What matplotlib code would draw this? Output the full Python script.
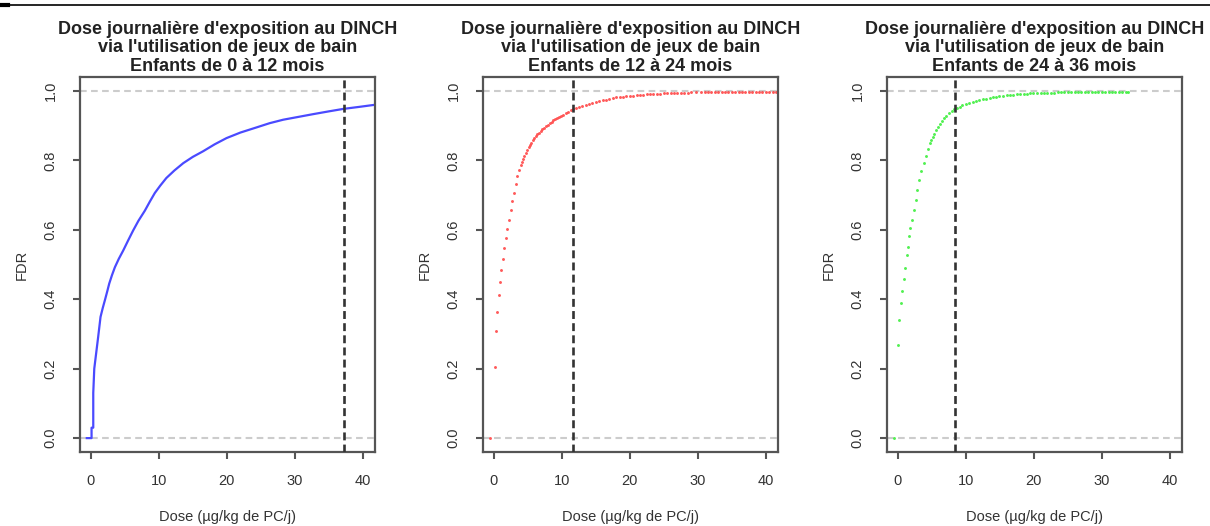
import matplotlib.pyplot as plt
from matplotlib.lines import Line2D
import numpy as np

plt.rcParams["font.family"] = ["Liberation Sans", "DejaVu Sans"]

# courbes (dose en ug/kg de PC/j, FDR)
dose_0_12 = [-0.6, 0.1, 0.1, 0.35, 0.35, 0.5, 0.75, 1.07, 1.42, 1.75,
             2.06, 2.4, 2.7, 3.1, 3.53, 4.1, 4.75, 5.5, 6.22, 7.0,
             7.94, 8.7, 9.41, 10.2, 11.1, 12.3, 13.6, 15.0, 16.5, 18.2,
             19.95, 22.0, 24.4, 26.3, 28.3, 30.5, 32.7, 35.0, 37.1, 39.5,
             41.8]
fdr_0_12 = [0, 0, 0.03, 0.03, 0.13, 0.2, 0.24, 0.291, 0.349, 0.375,
            0.397, 0.422, 0.445, 0.469, 0.492, 0.516, 0.540, 0.570, 0.598, 0.626,
            0.655, 0.682, 0.706, 0.727, 0.749, 0.771, 0.792, 0.810, 0.826, 0.846,
            0.864, 0.880, 0.895, 0.907, 0.917, 0.925, 0.933, 0.941, 0.948, 0.954,
            0.960]

dose_12_24 = [-0.5, 0.1, 0.25, 0.44, 0.69, 0.89, 1.08, 1.3, 1.55, 1.78,
              1.97, 2.2, 2.47, 2.7, 2.95, 3.2, 3.44, 3.7, 3.94, 4.1,
              4.3, 4.5, 4.68, 4.9, 5.1, 5.3, 5.5, 5.7, 5.91, 6.15,
              6.4, 6.65, 6.9, 7.15, 7.39, 7.65, 7.9, 8.2, 8.5, 8.75,
              9.0, 9.3, 9.6, 9.9, 10.2, 10.55, 10.9, 11.3, 11.7, 12.1,
              12.5, 13.0, 13.5, 14.0, 14.5, 15.0, 15.5, 16.0, 16.5, 17.0,
              17.5, 18.0, 18.5, 19.0, 19.5, 20.0, 20.5, 21.0, 21.5, 22.0,
              22.5, 23.0, 23.4, 24.0, 24.5, 25.0, 25.5, 26.0, 26.5, 27.0,
              27.5, 28.0, 28.5, 29.0, 29.8, 30.5, 31.0, 31.5, 32.0, 32.5,
              33.0, 33.5, 34.0, 34.5, 35.0, 35.5, 36.0, 36.5, 37.0, 37.5,
              38.0, 38.5, 39.0, 39.5, 40.0, 40.5, 41.0, 41.5]
fdr_12_24 = [0, 0.205, 0.308, 0.364, 0.413, 0.449, 0.485, 0.516, 0.548, 0.575,
             0.601, 0.628, 0.658, 0.682, 0.706, 0.731, 0.754, 0.771, 0.787, 0.795,
             0.805, 0.813, 0.821, 0.829, 0.837, 0.844, 0.851, 0.858, 0.864, 0.870,
             0.875, 0.880, 0.884, 0.889, 0.893, 0.898, 0.902, 0.907, 0.911, 0.915,
             0.918, 0.922, 0.926, 0.929, 0.932, 0.936, 0.940, 0.944, 0.947, 0.950,
             0.953, 0.957, 0.960, 0.963, 0.966, 0.969, 0.971, 0.973, 0.975, 0.977,
             0.979, 0.981, 0.982, 0.983, 0.984, 0.985, 0.986, 0.987, 0.988, 0.989,
             0.990, 0.990, 0.991, 0.992, 0.992, 0.993, 0.993, 0.994, 0.994, 0.994,
             0.995, 0.995, 0.995, 0.996, 0.996, 0.996, 0.996, 0.997, 0.997, 0.997,
             0.997, 0.997, 0.997, 0.997, 0.997, 0.997, 0.997, 0.997, 0.997, 0.997,
             0.997, 0.997, 0.997, 0.997, 0.997, 0.997, 0.997, 0.997]

dose_24_36 = [-0.6, 0.0, 0.2, 0.4, 0.64, 0.84, 1.04, 1.28, 1.45, 1.63,
              1.85, 2.1, 2.35, 2.6, 2.85, 3.1, 3.45, 3.85, 4.1, 4.4,
              4.7, 4.9, 5.1, 5.35, 5.6, 5.9, 6.2, 6.5, 6.8, 7.15,
              7.5, 7.9, 8.3, 8.7, 9.1, 9.5, 10.0, 10.5, 11.0, 11.5,
              12.0, 12.5, 13.0, 13.5, 14.0, 14.5, 14.9, 15.5, 16.0, 16.5,
              17.0, 17.5, 18.0, 18.5, 19.0, 19.5, 19.9, 20.5, 21.0, 21.5,
              22.0, 22.5, 23.0, 23.5, 24.0, 24.5, 25.0, 25.5, 26.0, 26.5,
              27.0, 27.5, 28.0, 28.5, 29.0, 29.5, 30.0, 30.5, 31.0, 31.5,
              32.0, 32.5, 33.0, 33.5, 33.9]
fdr_24_36 = [0, 0.268, 0.341, 0.389, 0.425, 0.457, 0.489, 0.526, 0.550, 0.581,
             0.605, 0.629, 0.658, 0.687, 0.716, 0.744, 0.768, 0.792, 0.812, 0.832,
             0.850, 0.858, 0.866, 0.877, 0.888, 0.897, 0.905, 0.913, 0.921, 0.928,
             0.935, 0.941, 0.947, 0.951, 0.955, 0.958, 0.962, 0.966, 0.969, 0.972,
             0.974, 0.976, 0.978, 0.980, 0.982, 0.983, 0.984, 0.986, 0.987, 0.988,
             0.989, 0.990, 0.991, 0.991, 0.992, 0.993, 0.993, 0.994, 0.994, 0.995,
             0.995, 0.995, 0.995, 0.996, 0.996, 0.996, 0.996, 0.996, 0.996, 0.996,
             0.996, 0.996, 0.996, 0.996, 0.996, 0.996, 0.996, 0.996, 0.996, 0.996,
             0.996, 0.996, 0.996, 0.996, 0.996]

# 95e percentile (ligne verticale)
p95 = [37.2, 11.7, 8.4]

titres = ["Dose journalière d'exposition au DINCH\nvia l'utilisation de jeux de bain\nEnfants de 0 à 12 mois",
          "Dose journalière d'exposition au DINCH\nvia l'utilisation de jeux de bain\nEnfants de 12 à 24 mois",
          "Dose journalière d'exposition au DINCH\nvia l'utilisation de jeux de bain\nEnfants de 24 à 36 mois"]

fig = plt.figure(figsize=(12.1, 5.26), dpi=100)
lefts = [80 / 1210, 483 / 1210, 887 / 1210]
axes = [fig.add_axes([l, 74 / 526, 295 / 1210, 375 / 526]) for l in lefts]

data = [(dose_0_12, fdr_0_12, "#4a4aff"),
        (dose_12_24, fdr_12_24, "#ff3c3c"),
        (dose_24_36, fdr_24_36, "#33ee33")]

for i, ax in enumerate(axes):
    x, y, col = data[i]
    ax.axhline(0, color="#cccccc", lw=1.5, ls=(0, (3.2, 2.1)), zorder=1)
    ax.axhline(1, color="#cccccc", lw=1.5, ls=(0, (3.2, 2.1)), zorder=1)
    if i == 0:
        ax.plot(x, y, color=col, lw=1.6, zorder=2)
    else:
        ax.plot(x, y, "o", color=col, ms=2.1, mew=0, alpha=0.85, zorder=2)
    ax.axvline(p95[i], color="#333333", lw=1.9, ls=(0, (3.0, 1.6)), zorder=3)

    ax.set_xlim(-1.6, 41.8)
    ax.set_ylim(-0.04, 1.04)
    ax.set_xticks([0, 10, 20, 30, 40])
    ax.set_yticks([0, 0.2, 0.4, 0.6, 0.8, 1.0])
    ax.set_yticklabels(["0.0", "0.2", "0.4", "0.6", "0.8", "1.0"], rotation=90, va="center")
    ax.tick_params(length=5, width=1.5, color="#555555", labelcolor="#333333",
                   labelsize=10.5)
    ax.tick_params(axis="x", pad=11)
    ax.tick_params(axis="y", pad=11)
    for s in ax.spines.values():
        s.set_color("#555555")
        s.set_linewidth(1.6)

    ax.set_title(titres[i], fontsize=13, fontweight="bold", color="#222222",
                 linespacing=1.15, pad=4)
    ax.set_xlabel("Dose (µg/kg de PC/j)", fontsize=10.5, color="#333333", labelpad=16)
    ax.set_ylabel("FDR", fontsize=10.5, color="#333333", labelpad=11)

# trait noir en haut de l'image
fig.add_artist(Line2D([0, 1], [1 - 5 / 526, 1 - 5 / 526], color="black", lw=1.2))
fig.add_artist(Line2D([0, 8 / 1210], [1 - 5 / 526, 1 - 5 / 526], color="black", lw=3))

fig.savefig("out.png", dpi=100, facecolor="white")
